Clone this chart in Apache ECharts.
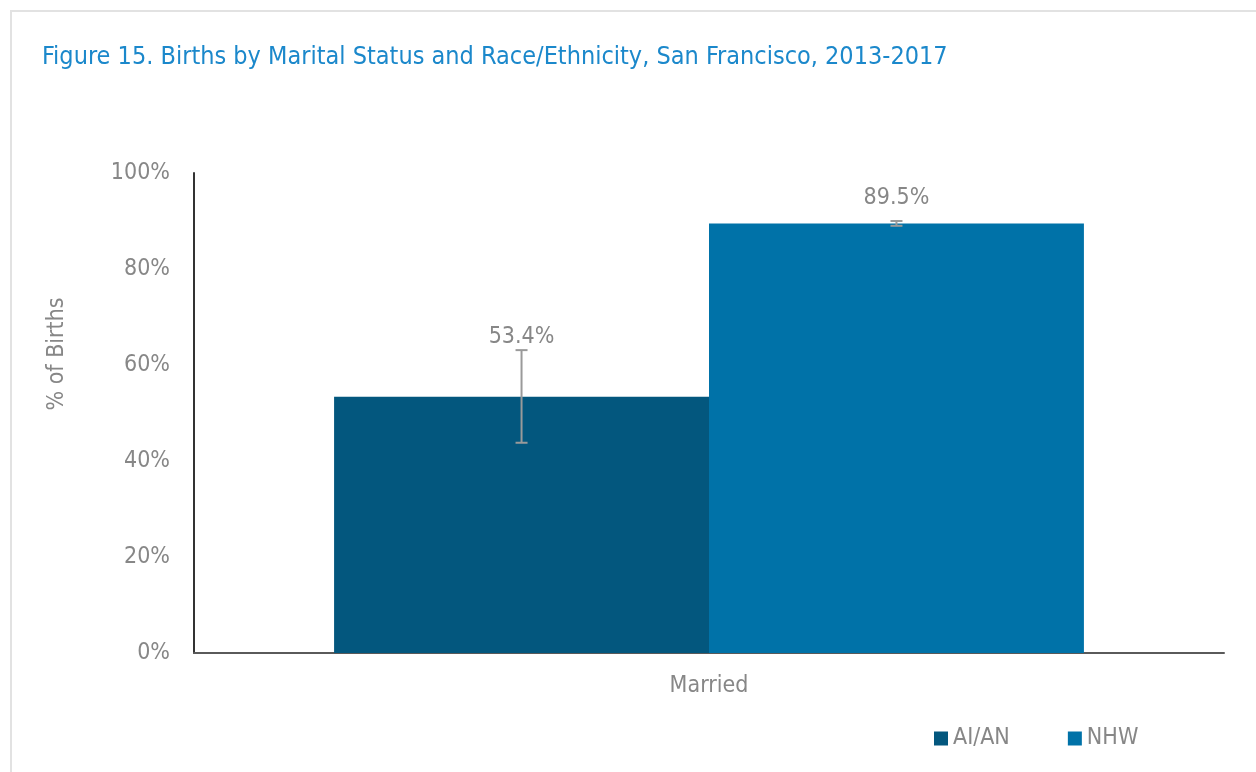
<!DOCTYPE html>
<html>
<head>
<meta charset="utf-8">
<script src="https://cdn.jsdelivr.net/npm/echarts@6/dist/echarts.min.js"></script>
<style>
  html, body { margin: 0; padding: 0; background: #fff; }
  #chart { width: 1256px; height: 772px; }
</style>
</head>
<body>
<div id="chart"></div>
<script>
  // data
  var categories = ['Married'];
  var groups = ['AI/AN', 'NHW'];
  var aianValues = [53.4];
  var nhwValues = [89.5];
  var aianLow = [43.8];
  var aianHigh = [63.1];
  var nhwLow = [89.0];
  var nhwHigh = [90.0];
  var yTicks = [0, 20, 40, 60, 80, 100];

  var FONT = "'Liberation Sans Narrow', 'Arial Narrow', 'DejaVu Sans Condensed', sans-serif";
  var GRAY = '#878787';
  var colors = ['#03577e', '#0072a8'];
  var catGap = 0.272;

  var myChart = echarts.init(document.getElementById('chart'));

  // error bar drawn with custom series, shifted to sit on each bar
  function errorSeries(name, low, high, side) {
    return {
      name: name + ' error',
      type: 'custom',
      z: 5,
      data: categories.map(function (c, i) { return [i, low[i], high[i]]; }),
      renderItem: function (params, api) {
        var band = api.size([1, 0])[0];
        var barW = band * (1 - catGap) / 2;
        var lo = api.coord([api.value(0), api.value(1)]);
        var hi = api.coord([api.value(0), api.value(2)]);
        var x = lo[0] + side * barW / 2;
        var cap = 6;
        var style = {stroke: '#9a9a9a', lineWidth: 2};
        return {
          type: 'group',
          children: [
            {type: 'line', shape: {x1: x, y1: lo[1], x2: x, y2: hi[1]}, style: style},
            {type: 'line', shape: {x1: x - cap, y1: lo[1], x2: x + cap, y2: lo[1]}, style: style},
            {type: 'line', shape: {x1: x - cap, y1: hi[1], x2: x + cap, y2: hi[1]}, style: style}
          ]
        };
      }
    };
  }

  var labelStyle = {show: true, position: 'top', color: GRAY, fontFamily: FONT, fontSize: 23,
    formatter: function (p) { return p.value.toFixed(1) + '%'; }};

  myChart.setOption({
    animation: false,
    title: {
      text: 'Figure 15. Births by Marital Status and Race/Ethnicity, San Francisco, 2013-2017',
      left: 37,
      top: 40,
      textStyle: {color: '#1b88cb', fontFamily: FONT, fontSize: 25, fontWeight: 'normal'}
    },
    legend: {
      data: groups,
      left: 929,
      top: 722,
      icon: 'rect',
      itemWidth: 14,
      itemHeight: 14,
      itemGap: 58,
      textStyle: {color: GRAY, fontFamily: FONT, fontSize: 23}
    },
    grid: {left: 194, right: 32, top: 173, bottom: 119},
    graphic: [
      {type: 'polyline', shape: {points: [[11, 772], [11, 11], [1256, 11]]},
        style: {stroke: '#e2e2e2', lineWidth: 2, fill: null}},
      {type: 'text', x: 57, y: 354, rotation: Math.PI / 2,
        style: {text: '% of Births', fill: GRAY, font: '23px ' + FONT, align: 'center', verticalAlign: 'middle'}}
    ],
    xAxis: {
      type: 'category',
      data: categories,
      axisLine: {lineStyle: {color: '#5a5a5a', width: 2}},
      axisTick: {show: false},
      axisLabel: {color: GRAY, fontFamily: FONT, fontSize: 23, margin: 22}
    },
    yAxis: {
      type: 'value',
      min: yTicks[0],
      max: yTicks[yTicks.length - 1],
      interval: yTicks[1] - yTicks[0],
      axisLine: {show: true, lineStyle: {color: '#333', width: 2}},
      axisTick: {show: false},
      splitLine: {show: false},
      axisLabel: {color: GRAY, fontFamily: FONT, fontSize: 23, margin: 24,
        formatter: function (v) { return v + '%'; }}
    },
    series: [
      {
        name: groups[0], type: 'bar', barGap: '0%', barCategoryGap: (catGap * 100) + '%',
        itemStyle: {color: colors[0]},
        data: aianValues.map(function (v) { return {value: v, label: {distance: 48}}; }),
        label: labelStyle
      },
      {
        name: groups[1], type: 'bar', barGap: '0%', barCategoryGap: (catGap * 100) + '%',
        itemStyle: {color: colors[1]},
        data: nhwValues.map(function (v) { return {value: v, label: {distance: 14}}; }),
        label: labelStyle
      },
      errorSeries(groups[0], aianLow, aianHigh, -1),
      errorSeries(groups[1], nhwLow, nhwHigh, 1)
    ]
  });
</script>
</body>
</html>
